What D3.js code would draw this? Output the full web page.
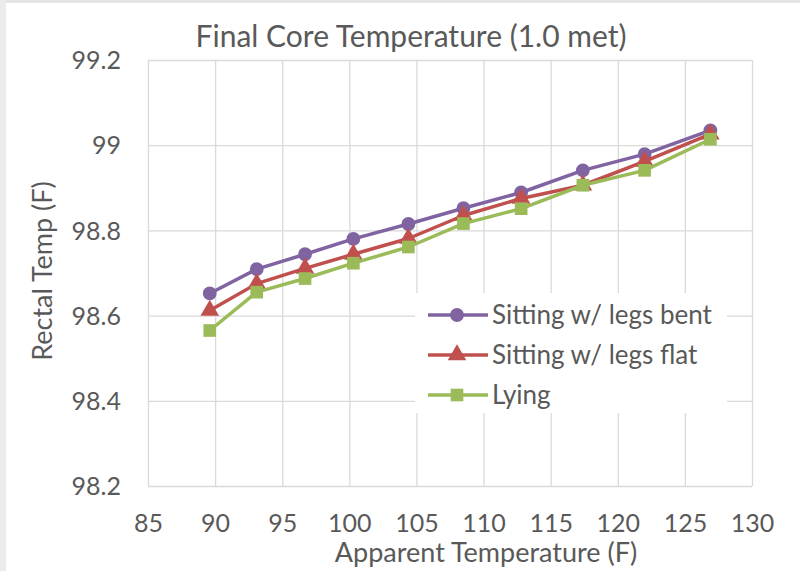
<!DOCTYPE html>
<html>
<head>
<meta charset="utf-8">
<title>Final Core Temperature</title>
<style>
body { margin: 0; background: #fff; }
text { font-family: Lato, "Noto Sans", sans-serif; fill: #595959; }
.grid line { stroke: #d9d9d9; stroke-width: 1.3px; }
.grid path { display: none; }
.axis path, .axis line { display: none; }
</style>
</head>
<body>
<svg width="800" height="571"></svg>
<script src="https://cdn.jsdelivr.net/npm/d3@7"></script>
<script>
// apparent temperature (F)
var apparent = [89.6, 93.1, 96.7, 100.3, 104.4, 108.5, 112.8, 117.4, 122.0, 126.9];
// rectal temperature (F) for each posture
var sittingBent = [98.652, 98.709, 98.744, 98.780, 98.815, 98.852, 98.889, 98.941, 98.979, 99.035];
var sittingFlat = [98.612, 98.675, 98.711, 98.744, 98.781, 98.835, 98.875, 98.906, 98.962, 99.026];
var lying = [98.565, 98.655, 98.687, 98.723, 98.761, 98.816, 98.851, 98.906, 98.941, 99.014];
var seriesNames = ["Sitting w/ legs bent", "Sitting w/ legs flat", "Lying"];
var xTicks = [85, 90, 95, 100, 105, 110, 115, 120, 125, 130];
var yTicks = [98.2, 98.4, 98.6, 98.8, 99.0, 99.2];

var colors = ["#8064a2", "#c0504d", "#9bbb59"];
var symbols = [d3.symbolCircle, d3.symbolTriangle, d3.symbolSquare];
var symSizes = [150, 150, 160];

var svg = d3.select("svg");

// window frame bits
svg.append("rect").attr("x", 0).attr("y", 0).attr("width", 800).attr("height", 3).attr("fill", "#e4e4e4");
svg.append("rect").attr("x", 0).attr("y", 0).attr("width", 6).attr("height", 571).attr("fill", "#ebebeb");

var plotLeft = 148, plotRight = 752, plotTop = 60, plotBottom = 486;

var x = d3.scaleLinear().domain([85, 130]).range([plotLeft, plotRight]);
var y = d3.scaleLinear().domain([98.2, 99.2]).range([plotBottom, plotTop]);

// gridlines
svg.append("g").attr("class", "grid")
	.attr("transform", "translate(0," + plotBottom + ")")
	.call(d3.axisBottom(x).tickValues(xTicks).tickSize(-(plotBottom - plotTop)).tickFormat(""));
svg.append("g").attr("class", "grid")
	.attr("transform", "translate(" + plotLeft + ",0)")
	.call(d3.axisLeft(y).tickValues(yTicks).tickSize(-(plotRight - plotLeft)).tickFormat(""));

// axes labels
var xAxis = svg.append("g").attr("class", "axis")
	.attr("transform", "translate(0," + plotBottom + ")")
	.call(d3.axisBottom(x).tickValues(xTicks).tickSize(0).tickPadding(26));
xAxis.selectAll("text").style("font-size", "25px").attr("dy", "0.35em").attr("y", 37);

var yAxis = svg.append("g").attr("class", "axis")
	.attr("transform", "translate(" + 121 + ",0)")
	.call(d3.axisLeft(y).tickValues(yTicks).tickSize(0).tickPadding(0)
		.tickFormat(function(d) { return d3.format(".1f")(d).replace(/\.0$/, ""); }));
yAxis.selectAll("text").style("font-size", "25px").attr("dy", "0.35em");

// titles
svg.append("text").attr("x", 411).attr("y", 47).attr("text-anchor", "middle")
	.style("font-size", "30px").text("Final Core Temperature (1.0 met)");
svg.append("text").attr("x", 486).attr("y", 562).attr("text-anchor", "middle")
	.style("font-size", "27px").text("Apparent Temperature (F)");
svg.append("text").attr("transform", "translate(52,271) rotate(-90)").attr("text-anchor", "middle")
	.style("font-size", "27px").text("Rectal Temp (F)");

// series
var allSeries = [sittingBent, sittingFlat, lying];
var line = d3.line()
	.x(function(d, i) { return x(apparent[i]); })
	.y(function(d) { return y(d); });

allSeries.forEach(function(vals, s) {
	var g = svg.append("g");
	g.append("path").datum(vals)
		.attr("d", line)
		.attr("fill", "none")
		.attr("stroke", colors[s])
		.attr("stroke-width", 3.5)
		.attr("stroke-linejoin", "round");
	g.selectAll("path.pt").data(vals).enter().append("path")
		.attr("class", "pt")
		.attr("d", d3.symbol().type(symbols[s]).size(symSizes[s]))
		.attr("transform", function(d, i) { return "translate(" + x(apparent[i]) + "," + y(d) + ")"; })
		.attr("fill", colors[s]);
});

// legend
var legend = svg.append("g");
legend.append("rect").attr("x", 415).attr("y", 293).attr("width", 312).attr("height", 120).attr("fill", "#fff");
seriesNames.forEach(function(name, s) {
	var ly = 315 + s * 40;
	legend.append("line").attr("x1", 428).attr("x2", 488).attr("y1", ly).attr("y2", ly)
		.attr("stroke", colors[s]).attr("stroke-width", 3.5);
	legend.append("path")
		.attr("d", d3.symbol().type(symbols[s]).size(symSizes[s]))
		.attr("transform", "translate(457," + ly + ")")
		.attr("fill", colors[s]);
	legend.append("text").attr("x", 492).attr("y", ly).attr("dy", "0.35em")
		.style("font-size", "26px").text(name);
});
</script>
</body>
</html>
